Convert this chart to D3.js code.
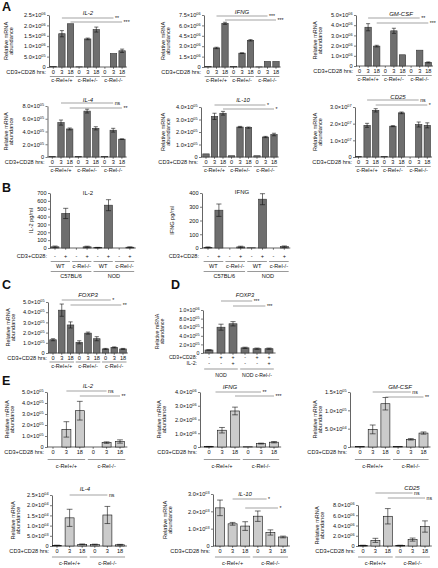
<!DOCTYPE html>
<html><head><meta charset="utf-8">
<script src="https://cdn.jsdelivr.net/npm/d3@7"></script>
<style>body{margin:0;background:#fff}svg{display:block}text{font-family:"Liberation Sans",Arial,sans-serif;fill:#111}</style>
</head><body><svg id="c" width="438" height="568"></svg>
<script>
// ---------- categories ----------
const hrs = ["0","3","18"];
const geno3 = ["c-Rel+/+","c-Rel+/-","c-Rel-/-"];
const geno2 = ["c-Rel+/+","c-Rel-/-"];
const stimB = ["-","+","-","+","-","+","-","+"];
const genoB = ["WT","c-Rel-/-","WT","c-Rel-/-"];
const strainB = ["C57BL/6","NOD"];
const stimD = ["-","+","+","-","+","+"];
const il2D = ["-","-","+","-","-","+"];
const groupD = ["NOD","NOD c-Rel-/-"];

// ---------- A ----------
const aIL2 = [2e4,1.6e6,2.08e6,1e4,1.35e6,1.8e6,0,6.5e5,7.8e5];
const aIL2Err = [0,1.5e5,0,0,4e4,1.2e5,0,0,8e4];
const aIL2Ticks = [0,5e5,1e6,1.5e6,2e6,2.5e6];
const aIFNG = [5e4,2.75e6,6.3e6,5e4,2.0e6,3.85e6,2e4,8e5,8e5];
const aIFNGErr = [0,1e5,1.5e5,0,5e4,1e5,0,0,0];
const aIFNGTicks = [0,1.5e6,3e6,4.5e6,6e6,7.5e6];
const aGMCSF = [0,3.8e6,1.95e6,0,3.45e6,1.1e6,0,1.55e6,3.5e5];
const aGMCSFErr = [0,3.5e5,8e4,0,2.5e5,0,0,0,5e4];
const aGMCSFTicks = [0,1e6,2e6,3e6,4e6,5e6];
const aIL4 = [5e3,5.4e5,4.4e5,1e4,7.2e5,4.5e5,5e3,4.2e5,2.8e5];
const aIL4Err = [0,4e4,1.5e4,0,3e4,2.5e4,0,3e4,5e3];
const aIL4Ticks = [0,2e5,4e5,6e5,8e5];
const aIL10 = [2.5e4,3.25e5,3.5e5,1e4,2.4e5,2.35e5,1e4,1.6e5,1.8e5];
const aIL10Err = [0,2.5e4,1.5e4,0,5e3,5e3,0,5e3,1e4];
const aIL10Ticks = [0,1e5,2e5,3e5,4e5];
const aCD25 = [2e5,1.9e7,2.8e7,2e5,1.85e7,2.65e7,0,1.95e7,1.9e7];
const aCD25Err = [0,1.2e6,1e6,0,3e5,5e5,0,1.5e6,1.5e6];
const aCD25Ticks = [0,1e7,2e7,3e7];

// ---------- B ----------
const bIL2 = [15,440,0,15,5,545,0,10];
const bIL2Err = [10,65,0,8,3,70,0,5];
const bIL2Ticks = [0,100,200,300,400,500,600,700];
const bIFNG = [5,275,0,8,2,355,0,10];
const bIFNGErr = [3,45,0,5,0,40,0,5];
const bIFNGTicks = [0,100,200,300,400];

// ---------- C / D ----------
const cFOXP3 = [1.3e5,4.2e5,2.75e5,1.05e5,1.95e5,1.4e5,4e4,5.5e4,4e4];
const cFOXP3Err = [1e4,6e4,3e4,1.5e4,1e4,2e4,5e3,5e3,5e3];
const cFOXP3Ticks = [0,1e5,2e5,3e5,4e5,5e5];
const dFOXP3 = [7e4,6e5,6.8e5,1.2e5,1e5,1e5];
const dFOXP3Err = [5e3,7e4,5e4,1.5e4,1.5e4,1.5e4];
const dFOXP3Ticks = [0,2e5,4e5,6e5,8e5,1e6];

// ---------- E ----------
const eIL2 = [0,1.6e5,3.3e5,0,4e4,5e4];
const eIL2Err = [0,7e4,8.5e4,0,7e3,1.5e4];
const eIL2Ticks = [0,1e5,2e5,3e5,4e5,5e5];
const eIFNG = [3e4,1.22e6,2.62e6,2e4,2.5e5,3.5e5];
const eIFNGErr = [1e4,2e5,2.8e5,0,3e4,5e4];
const eIFNGTicks = [0,1e6,2e6,3e6,4e6];
const eGMCSF = [1e3,4.8e4,1.18e5,1e3,2.1e4,3.8e4];
const eGMCSFErr = [0,1.2e4,1.7e4,0,2e3,3e3];
const eGMCSFTicks = [0,5e4,1e5,1.5e5];
const eIL4 = [300,1.38e4,800,700,1.52e4,600];
const eIL4Err = [100,4.2e3,200,200,4.2e3,200];
const eIL4Ticks = [0,5e3,1e4,1.5e4,2e4,2.5e4];
const eIL10 = [2.2e3,1.28e3,1.15e3,1.72e3,780,520];
const eIL10Err = [450,80,250,300,150,50];
const eIL10Ticks = [0,1e3,2e3,3e3];
const eCD25 = [1e5,1.1e6,5.8e6,1e5,1.25e6,3.8e6];
const eCD25Err = [5e4,4e5,1.5e6,5e4,3e5,1.1e6];
const eCD25Ticks = [0,2e6,4e6,6e6,8e6];

// ---------- drawing ----------
const svg = d3.select("#c");
const DARK = "#6e6e6e", LIGHT = "#cbcbcb", INK = "#111";

function sciTick(sel, d, plain) {
  sel.text(null);
  if (plain || d === 0) { sel.text(String(d)); return; }
  const e = Math.floor(Math.log10(d) + 1e-9);
  const m = d / Math.pow(10, e);
  sel.append("tspan").text(m.toFixed(1) + "×10");
  sel.append("tspan").attr("dy", -2).attr("font-size", 3.8).text(String(e).padStart(2, "0"));
}

function rep(arr, k) { let o = []; for (let i = 0; i < k; i++) o = o.concat(arr); return o; }

function txt(g, x, y, s, fs, anchor) {
  return g.append("text").attr("x", x).attr("y", y).attr("dy", "0.35em").attr("text-anchor", anchor || "middle")
    .attr("font-size", fs).attr("fill", INK).text(s);
}

function panel(p) {
  const g = svg.append("g");
  const n = p.values.length;
  const x = d3.scaleLinear().domain([0, n - 1]).range([p.x0, p.x0 + (n - 1) * p.step]);
  const y = d3.scaleLinear().domain([0, d3.max(p.ticks)]).range([p.y0, p.yT]);
  const fs = p.fs || 5.6;
  // y axis
  const ax = g.append("g").attr("transform", `translate(${p.axisX},0)`)
    .call(d3.axisLeft(y).tickValues(p.ticks).tickSize(2).tickSizeOuter(0).tickPadding(1.5));
  ax.select(".domain").attr("stroke", "#222").attr("stroke-width", 0.7);
  ax.selectAll(".tick line").attr("stroke", "#222").attr("stroke-width", 0.6);
  ax.selectAll(".tick text").attr("font-size", fs).attr("font-family", "Liberation Sans, Arial, sans-serif")
    .attr("fill", INK).each(function (d) { sciTick(d3.select(this), d, p.plain); });
  // x axis
  const xEnd = x(n - 1) + p.step * 0.55;
  g.append("line").attr("x1", p.axisX).attr("x2", xEnd).attr("y1", p.y0).attr("y2", p.y0)
    .attr("stroke", "#222").attr("stroke-width", 0.7);
  g.selectAll("line.xt").data(p.values).join("line").attr("class", "xt")
    .attr("x1", (d, i) => x(i)).attr("x2", (d, i) => x(i)).attr("y1", p.y0).attr("y2", p.y0 + 1.8)
    .attr("stroke", "#222").attr("stroke-width", 0.6);
  // bars
  g.selectAll("rect.bar").data(p.values).join("rect").attr("class", "bar")
    .attr("x", (d, i) => x(i) - p.bw / 2).attr("width", p.bw)
    .attr("y", d => y(d)).attr("height", d => p.y0 - y(d))
    .attr("fill", p.fill).attr("stroke", p.stroke).attr("stroke-width", 0.6);
  // error bars
  p.values.forEach((v, i) => {
    const e = p.errs[i]; if (!e) return;
    const lo = y(Math.max(0, v - e)), hi = y(v + e), cw = p.bw * 0.32;
    g.append("line").attr("x1", x(i)).attr("x2", x(i)).attr("y1", lo).attr("y2", hi).attr("stroke", INK).attr("stroke-width", 0.6);
    [lo, hi].forEach(yy => g.append("line").attr("x1", x(i) - cw).attr("x2", x(i) + cw).attr("y1", yy).attr("y2", yy).attr("stroke", INK).attr("stroke-width", 0.6));
  });
  // x label rows
  p.rows.forEach(r => {
    r.labels.forEach((d, i) => txt(g, x(i), r.y, d, fs));
    if (r.lead) txt(g, p.axisX - (p.leadGap || 3), r.y + (p.leadDy || 0), r.lead, fs, "end");
  });
  // group rows
  p.groups.forEach(gr => {
    const k = gr.labels.length, per = n / k;
    gr.labels.forEach((lab, j) => {
      const a = x(j * per) - p.step * 0.4, b = x(j * per + per - 1) + p.step * 0.4;
      g.append("line").attr("x1", a).attr("x2", b).attr("y1", gr.ly).attr("y2", gr.ly).attr("stroke", "#555").attr("stroke-width", 0.6);
      txt(g, (a + b) / 2, gr.ty, lab, fs);
    });
  });
  // title
  txt(g, p.tx, p.ty, p.title, fs + 0.4).attr("font-style", p.italic ? "italic" : "normal");
  // sig lines
  (p.sig || []).forEach(s => {
    const a = x(s.i0), b = x(s.i1);
    g.append("line").attr("x1", a).attr("x2", b).attr("y1", s.y).attr("y2", s.y).attr("stroke", "#666").attr("stroke-width", 0.6);
    txt(g, b + 1.5, s.y, s.t, fs - 0.4, "start");
  });
  // y label
  const my = (p.y0 + p.yT) / 2;
  p.ylab.forEach((l, j) => {
    g.append("text").attr("transform", `translate(${p.ylx + j * 5.2},${my}) rotate(-90)`).attr("dy", "0.35em")
      .attr("text-anchor", "middle").attr("font-size", fs).attr("fill", INK).text(l);
  });
}

const relLab = ["Relative mRNA", "abundance"];
function aPanel(vals, errs, ticks, title, L, sig) {
  panel(Object.assign({
    values: vals, errs: errs, ticks: ticks, title: title, italic: true, fill: DARK, stroke: "#333", bw: 6.4,
    ylab: relLab,
    rows: [{ y: L.y0 + 5, labels: rep(hrs, 3), lead: "CD3+CD28 hrs:" }],
    groups: [{ labels: geno3, ly: L.y0 + 9.5, ty: L.y0 + 13.5 }],
    sig: [{ i0: 1, i1: 7, y: L.s1, t: sig[0] }, { i0: 2, i1: 8, y: L.s2, t: sig[1] }]
  }, L));
}
aPanel(aIL2, aIL2Err, aIL2Ticks, "IL-2", { axisX: 49, x0: 53.3, step: 8.6, y0: 67, yT: 15, tx: 88, ty: 13, ylx: 6, s1: 18, s2: 22 }, ["**", "***"]);
aPanel(aIFNG, aIFNGErr, aIFNGTicks, "IFNG", { axisX: 204, x0: 208, step: 8.5, y0: 67, yT: 15, tx: 242, ty: 12, ylx: 163, s1: 16, s2: 20 }, ["***", "***"]);
aPanel(aGMCSF, aGMCSFErr, aGMCSFTicks, "GM-CSF", { axisX: 356, x0: 359.5, step: 8.6, y0: 66, yT: 15, tx: 401, ty: 14, ylx: 315, s1: 18, s2: 23 }, ["**", "***"]);
aPanel(aIL4, aIL4Err, aIL4Ticks, "IL-4", { axisX: 47.5, x0: 52.3, step: 8.7, y0: 157, yT: 106, tx: 88, ty: 100, ylx: 6, s1: 103, s2: 108 }, ["ns", "**"]);
aPanel(aIL10, aIL10Err, aIL10Ticks, "IL-10", { axisX: 201, x0: 206, step: 8.5, y0: 157, yT: 107, tx: 243, ty: 100, ylx: 163, s1: 105, s2: 109 }, ["*", "*"]);
aPanel(aCD25, aCD25Err, aCD25Ticks, "CD25", { axisX: 355, x0: 358.5, step: 8.6, y0: 157, yT: 107, tx: 398, ty: 97, ylx: 315, s1: 100, s2: 105 }, ["ns", "*"]);

// B
function bPanel(vals, errs, ticks, title, ylab, L) {
  panel(Object.assign({
    values: vals, errs: errs, ticks: ticks, title: title, italic: false, plain: true, fill: DARK, stroke: "#333", bw: 8,
    ylab: [ylab], step: 10.8,
    rows: [{ y: 256, labels: stimB, lead: "CD3+CD28:" }],
    groups: [{ labels: genoB, ly: 261.5, ty: 266 }, { labels: strainB, ly: 271.5, ty: 276 }],
    y0: 248, yT: 193, sig: []
  }, L));
}
bPanel(bIL2, bIL2Err, bIL2Ticks, "IL-2", "IL-2 pg/ml", { axisX: 50, x0: 55, step: 10.7, tx: 88, ty: 193, ylx: 31 });
bPanel(bIFNG, bIFNGErr, bIFNGTicks, "IFNG", "IFNG pg/ml", { axisX: 202, x0: 208, step: 10.9, tx: 242, ty: 192, ylx: 172 });

// C
panel({
  values: cFOXP3, errs: cFOXP3Err, ticks: cFOXP3Ticks, title: "FOXP3", italic: true, fill: DARK, stroke: "#333", bw: 6.6,
  axisX: 48, x0: 53, step: 8.75, y0: 353, yT: 302, tx: 88, ty: 295, ylx: 8, ylab: relLab, leadGap: 1,
  rows: [{ y: 358.5, labels: rep(hrs, 3), lead: "CD3+CD28 hrs:" }],
  groups: [{ labels: geno3, ly: 362, ty: 366 }],
  sig: [{ i0: 1, i1: 6.6, y: 300, t: "*" }, { i0: 2, i1: 7.8, y: 305, t: "**" }]
});
// D
panel({
  values: dFOXP3, errs: dFOXP3Err, ticks: dFOXP3Ticks, title: "FOXP3", italic: true, fill: DARK, stroke: "#333", bw: 8,
  axisX: 203, x0: 209, step: 12, y0: 353, yT: 310, tx: 245, ty: 295, ylx: 157, ylab: relLab, fs: 5.2, leadGap: 6,
  rows: [{ y: 357.5, labels: stimD, lead: "CD3+CD28:" }, { y: 363, labels: il2D, lead: "IL-2:" }],
  groups: [{ labels: groupD, ly: 369, ty: 375 }],
  sig: [{ i0: 1, i1: 3.6, y: 301, t: "***" }, { i0: 2, i1: 4.7, y: 306, t: "***" }]
});

// E
function ePanel(vals, errs, ticks, title, L, sig) {
  const d1 = L.d1 || 5.5, d2 = L.d2 || 12.5, d3v = L.d3 || 19;
  panel(Object.assign({
    values: vals, errs: errs, ticks: ticks, title: title, italic: true, fill: LIGHT, stroke: "#111", bw: 9,
    ylab: relLab,
    rows: [{ y: L.y0 + d1, labels: rep(hrs, 2), lead: "CD3+CD28 hrs:" }],
    groups: [{ labels: geno2, ly: L.y0 + d2, ty: L.y0 + d3v }],
    sig: sig
  }, L));
}
ePanel(eIL2, eIL2Err, eIL2Ticks, "IL-2", { axisX: 47, x0: 53, step: 13.4, y0: 447, yT: 392, tx: 88, ty: 386, ylx: 7 },
  [{ i0: 1, i1: 4, y: 391, t: "ns" }, { i0: 2, i1: 5, y: 396, t: "**" }]);
ePanel(eIFNG, eIFNGErr, eIFNGTicks, "IFNG", { axisX: 200, x0: 209, step: 13, y0: 447, yT: 392, tx: 230, ty: 387, ylx: 159 },
  [{ i0: 0.5, i1: 4, y: 392, t: "**" }, { i0: 2, i1: 5, y: 396, t: "***" }]);
ePanel(eGMCSF, eGMCSFErr, eGMCSFTicks, "GM-CSF", { axisX: 350, x0: 360, step: 12.7, y0: 447, yT: 392, tx: 400, ty: 387, ylx: 315 },
  [{ i0: 1, i1: 4, y: 392, t: "ns" }, { i0: 2, i1: 5, y: 397, t: "**" }]);
const row2 = { y0: 546, d1: 5, d2: 11, d3: 17.5 };
ePanel(eIL4, eIL4Err, eIL4Ticks, "IL-4", Object.assign({ axisX: 52, x0: 57, step: 12.6, yT: 495, tx: 85, ty: 489, ylx: 13 }, row2),
  [{ i0: 1, i1: 4, y: 495, t: "ns" }]);
ePanel(eIL10, eIL10Err, eIL10Ticks, "IL-10", Object.assign({ axisX: 213, x0: 220, step: 12.6, yT: 494, tx: 245, ty: 494, ylx: 165 }, row2),
  [{ i0: 1, i1: 3.7, y: 499, t: "*" }, { i0: 2, i1: 4.6, y: 508, t: "*" }]);
ePanel(eCD25, eCD25Err, eCD25Ticks, "CD25", Object.assign({ axisX: 358, x0: 363, step: 12.4, yT: 505, tx: 412, ty: 488, ylx: 317 }, row2),
  [{ i0: 1, i1: 4, y: 493, t: "ns" }, { i0: 2, i1: 5, y: 498, t: "ns" }]);

// panel letters
[["A", 2, 11], ["B", 2, 192], ["C", 2, 289], ["D", 171, 289], ["E", 2, 385]].forEach(([t, x, y]) =>
  svg.append("text").attr("x", x).attr("y", y).attr("font-size", 12.5).attr("font-weight", "bold").attr("fill", INK).text(t));
</script></body></html>
